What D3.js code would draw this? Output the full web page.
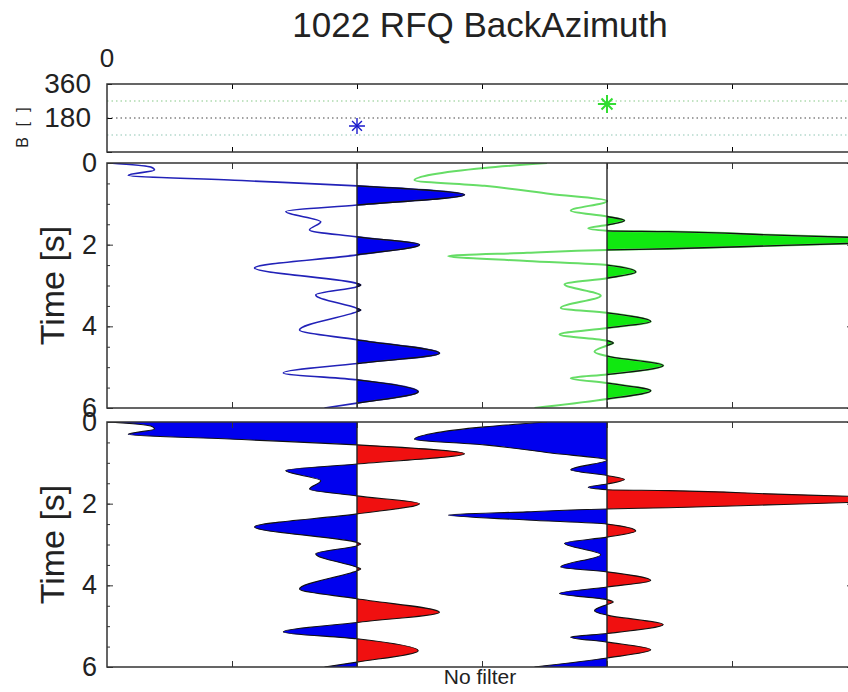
<!DOCTYPE html>
<html>
<head>
<meta charset="utf-8">
<script src="https://cdn.jsdelivr.net/npm/d3@7"></script>
<style>
  body { margin: 0; background: #fff; }
  text { font-family: "Liberation Sans", Arial, sans-serif; fill: #222; }
</style>
</head>
<body>
<script>
// receiver function traces (time in s, amplitude in axis units)
var time1 = [0, 0.10, 0.17, 0.30, 0.43, 0.56, 0.78, 1.03, 1.19, 1.44, 1.64, 1.81, 2.00, 2.25, 2.57, 2.95, 2.99, 3.03, 3.23, 3.56, 3.60, 3.64, 4.09, 4.33, 4.66, 4.91, 5.14, 5.31, 5.60, 5.88, 6.00];
var amp1 = [-1.98, -1.65, -1.62, -1.83, -0.92, 0, 0.86, 0, -0.57, -0.29, -0.38, 0, 0.50, 0, -0.82, 0, 0.03, 0, -0.33, 0, 0.03, 0, -0.46, 0, 0.66, 0, -0.59, 0, 0.49, 0, -0.26];

var time2 = [0, 0.12, 0.28, 0.42, 0.56, 0.76, 0.93, 1.17, 1.31, 1.41, 1.52, 1.60, 1.66, 1.68, 1.76, 1.82, 1.89, 1.97, 2.03, 2.10, 2.13, 2.20, 2.28, 2.40, 2.50, 2.67, 2.82, 2.97, 3.25, 3.55, 3.67, 3.88, 4.04, 4.20, 4.35, 4.41, 4.47, 4.62, 4.73, 4.96, 5.18, 5.27, 5.39, 5.58, 5.78, 6.00];
var amp2 = [-0.48, -0.98, -1.40, -1.54, -0.98, -0.45, 0, -0.29, 0, 0.14, 0, -0.15, 0, 0.49, 1.29, 1.94, 2.64, 1.94, 1.29, 0.49, 0, -0.64, -1.27, -0.64, 0, 0.23, 0, -0.34, -0.05, -0.37, 0, 0.35, 0, -0.38, 0, 0.05, 0, -0.10, 0, 0.45, 0, -0.29, 0, 0.35, 0, -0.58];

var traceOffsets = [2, 4];
var backAzimuth = [138, 254];
var bazLines = [90, 180, 270];
var bazTicks = [0, 180, 360];
var timeTicks = [0, 2, 4, 6];
var xTicks = [1, 2, 3, 4, 5];

var W = 848, H = 692;
var svg = d3.select("body").append("svg")
    .attr("width", W)
    .attr("height", H);

var x = d3.scaleLinear().domain([0, 6]).range([107, 857]);
var yBaz = d3.scaleLinear().domain([0, 360]).range([152, 84]);
var yMid = d3.scaleLinear().domain([0, 6]).range([163, 408]);
var yBot = d3.scaleLinear().domain([0, 6]).range([422, 667]);

var traces = [
  {t: time1, a: amp1, off: traceOffsets[0], line: "#2222b8", lw: 1.6, fill: "#0000f0"},
  {t: time2, a: amp2, off: traceOffsets[1], line: "#66dd66", lw: 2, fill: "#10e810"}
];
traces.forEach(function(tr) {
  tr.pts = tr.t.map(function(t, i) { return [t, tr.a[i]]; });
});

var defs = svg.append("defs");
function clip(id, x0, x1, y0, y1) {
  defs.append("clipPath").attr("id", id)
    .append("rect").attr("x", x0).attr("y", y0)
    .attr("width", x1 - x0).attr("height", y1 - y0);
  return "url(#" + id + ")";
}

// title
svg.append("text")
    .attr("x", 480).attr("y", 37)
    .attr("text-anchor", "middle")
    .style("font-size", "35px")
    .text("1022 RFQ BackAzimuth");

// ---- top panel: back azimuth ----
var bazPanel = svg.append("g");
bazPanel.selectAll(".bazline")
  .data(bazLines)
  .enter().append("line")
    .attr("x1", x(0)).attr("x2", x(6))
    .attr("y1", d => yBaz(d)).attr("y2", d => yBaz(d))
    .attr("stroke", (d, i) => ["#8fc6b4", "#444", "#86c886"][i])
    .attr("stroke-width", 1.2)
    .attr("stroke-dasharray", "1.5,3");

var star = bazPanel.selectAll(".star")
  .data(backAzimuth)
  .enter().append("g")
    .attr("transform", (d, i) => "translate(" + x(traceOffsets[i]) + "," + yBaz(d) + ")")
    .attr("stroke", (d, i) => i ? "#33dd33" : "#1a1acc")
    .attr("stroke-width", (d, i) => i ? 2 : 1.4)
    .attr("fill", "none");
star.append("path").attr("d", (d, i) => d3.symbol(d3.symbolPlus, i ? 110 : 85)());
star.append("path").attr("d", (d, i) => d3.symbol(d3.symbolTimes, i ? 80 : 65)());

bazPanel.append("g")
    .attr("transform", "translate(" + x(0) + ",0)")
    .call(d3.axisLeft(yBaz).tickValues(bazTicks).tickSizeInner(-5).tickSizeOuter(0).tickPadding(16)
      .tickFormat(d => d === 0 ? "" : d))
    .call(g => g.select(".domain").remove())
    .call(g => g.selectAll("text").style("font-size", "28px").attr("fill", "#222"));
bazPanel.append("g")
    .attr("transform", "translate(0," + yBaz(360) + ")")
    .call(d3.axisTop(x).tickValues(xTicks).tickSizeInner(-5).tickSizeOuter(0).tickFormat(""))
    .call(g => g.select(".domain").remove());
bazPanel.append("g")
    .attr("transform", "translate(0," + yBaz(0) + ")")
    .call(d3.axisBottom(x).tickValues(xTicks).tickSizeInner(-5).tickSizeOuter(0).tickFormat(""))
    .call(g => g.select(".domain").remove());
bazPanel.append("rect")
    .attr("x", x(0)).attr("y", yBaz(360))
    .attr("width", x(6) - x(0)).attr("height", yBaz(0) - yBaz(360))
    .attr("fill", "none").attr("stroke", "#333").attr("stroke-width", 1.5);

svg.append("text")
    .attr("x", 107).attr("y", 58).attr("dy", "0.35em")
    .attr("text-anchor", "middle")
    .style("font-size", "26px")
    .text("0");
svg.append("text")
    .attr("transform", "translate(28,126) rotate(-90)")
    .attr("text-anchor", "middle")
    .style("font-size", "16px")
    .style("letter-spacing", "3px")
    .attr("fill", "#555")
    .text("B [ ]");

// ---- trace panels ----
function timeAxes(g, y) {
  g.append("g")
      .attr("transform", "translate(" + x(0) + ",0)")
      .call(d3.axisLeft(y).tickValues(d3.range(0.5, 6, 0.5)).tickSizeInner(-3).tickSizeOuter(0).tickFormat(""))
      .call(a => a.select(".domain").remove());
  g.append("g")
      .attr("transform", "translate(" + x(0) + ",0)")
      .call(d3.axisLeft(y).tickValues(timeTicks).tickSizeInner(-6).tickSizeOuter(0).tickPadding(10)
        .tickFormat(d3.format("d")))
      .call(a => a.select(".domain").remove())
      .call(a => a.selectAll("text").style("font-size", "27px").attr("fill", "#222"));
  g.append("g")
      .attr("transform", "translate(" + x(6) + ",0)")
      .call(d3.axisRight(y).tickValues(timeTicks).tickSizeInner(-10).tickSizeOuter(0).tickFormat(""))
      .call(a => a.select(".domain").remove());
  g.append("g")
      .attr("transform", "translate(0," + y(0) + ")")
      .call(d3.axisTop(x).tickValues(xTicks).tickSizeInner(-6).tickSizeOuter(0).tickFormat(""))
      .call(a => a.select(".domain").remove());
  g.append("g")
      .attr("transform", "translate(0," + y(6) + ")")
      .call(d3.axisBottom(x).tickValues(xTicks).tickSizeInner(-6).tickSizeOuter(0).tickFormat(""))
      .call(a => a.select(".domain").remove());
  g.selectAll(".tick line").attr("stroke", "#333");
  g.append("text")
      .attr("transform", "translate(64," + ((y(0) + y(6)) / 2) + ") rotate(-90)")
      .attr("text-anchor", "middle")
      .style("font-size", "34px")
      .text("Time [s]");
}

function panel(name, y, mode) {
  var g = svg.append("g");
  var y0 = y(0), y1 = y(6);
  var body = g.append("g").attr("clip-path", clip(name + "-box", x(0), x(6), y0, y1));

  traces.forEach(function(tr, i) {
    var base = x(tr.off);
    var line = d3.line()
        .y(d => y(d[0]))
        .x(d => x(tr.off + d[1]))
        .curve(d3.curveMonotoneY);
    var area = d3.area()
        .y(d => y(d[0]))
        .x0(base)
        .x1(d => x(tr.off + d[1]))
        .curve(d3.curveMonotoneY);
    var pos = clip(name + "-pos" + i, base, x(6) + 50, y0 - 5, y1 + 5);
    var neg = clip(name + "-neg" + i, x(0) - 50, base, y0 - 5, y1 + 5);

    if (mode === "wiggle") {
      body.append("path").attr("d", area(tr.pts))
          .attr("fill", tr.fill).attr("clip-path", pos);
      body.append("path").attr("d", line(tr.pts))
          .attr("fill", "none").attr("stroke", tr.line).attr("stroke-width", tr.lw);
      body.append("path").attr("d", line(tr.pts))
          .attr("fill", "none").attr("stroke", "#111").attr("stroke-width", 1.3)
          .attr("clip-path", pos);
    } else {
      body.append("path").attr("d", area(tr.pts))
          .attr("fill", "#0000ee").attr("clip-path", neg);
      body.append("path").attr("d", area(tr.pts))
          .attr("fill", "#f01010").attr("clip-path", pos);
      body.append("path").attr("d", line(tr.pts))
          .attr("fill", "none").attr("stroke", "#111").attr("stroke-width", 1.1);
    }
    g.append("line")
        .attr("x1", base).attr("x2", base)
        .attr("y1", y0).attr("y2", y1)
        .attr("stroke", "#222").attr("stroke-width", 1.4);
  });

  timeAxes(g, y);
  g.append("rect")
      .attr("x", x(0)).attr("y", y0)
      .attr("width", x(6) - x(0)).attr("height", y1 - y0)
      .attr("fill", "none").attr("stroke", "#333").attr("stroke-width", 1.5);
}

panel("mid", yMid, "wiggle");
panel("bot", yBot, "polarity");

svg.append("text")
    .attr("x", 480).attr("y", 684)
    .attr("text-anchor", "middle")
    .style("font-size", "21px")
    .attr("fill", "#333")
    .text("No filter");
</script>
</body>
</html>
